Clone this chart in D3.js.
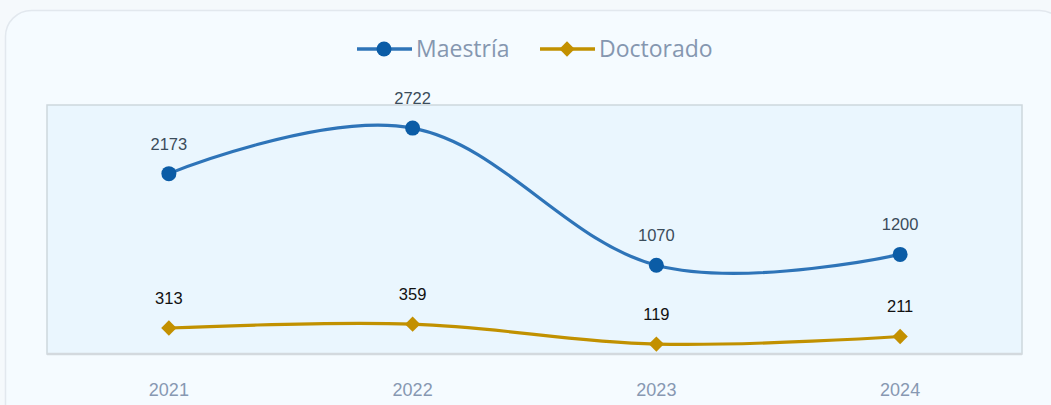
<!DOCTYPE html>
<html>
<head>
<meta charset="utf-8">
<script src="https://cdn.jsdelivr.net/npm/d3@7"></script>
<style>
  html, body { margin: 0; padding: 0; background: #f5f9fc; }
  svg { display: block; }
</style>
</head>
<body>
<div id="chart"></div>
<script>
const years = ['2021', '2022', '2023', '2024'];
const maestria = [2173, 2722, 1070, 1200];
const doctorado = [313, 359, 119, 211];
const yDomain = [0, 3000];

const width = 1051;
const height = 405;
const plot = { left: 47, right: 1022, top: 105, bottom: 354 };

const svg = d3.select('#chart').append('svg')
  .attr('width', width)
  .attr('height', height);

// card
svg.append('rect')
  .attr('x', 5.5).attr('y', 10.5)
  .attr('width', 1060).attr('height', 420)
  .attr('rx', 26).attr('ry', 26)
  .attr('fill', '#f5fbff')
  .attr('stroke', '#e2e8ee')
  .attr('stroke-width', 1.5);

// plot area
svg.append('rect')
  .attr('x', plot.left).attr('y', plot.top)
  .attr('width', plot.right - plot.left).attr('height', plot.bottom - plot.top)
  .attr('fill', '#eaf6fe')
  .attr('stroke', '#cdd7dd')
  .attr('stroke-width', 1.5);
svg.append('line')
  .attr('x1', plot.left).attr('x2', plot.right)
  .attr('y1', plot.bottom).attr('y2', plot.bottom)
  .attr('stroke', '#d3d9de')
  .attr('stroke-width', 2.5);

const x = d3.scaleBand().domain(years).range([plot.left, plot.right]);
const y = d3.scaleLinear().domain(yDomain).range([plot.bottom, plot.top]);
const cx = function (d) { return x(d) + x.bandwidth() / 2; };

// x axis labels
svg.append('g')
  .selectAll('text')
  .data(years)
  .enter().append('text')
  .attr('x', cx)
  .attr('y', 396)
  .attr('text-anchor', 'middle')
  .attr('fill', '#8798b2')
  .style('font', '18px "Liberation Sans", Arial, sans-serif')
  .text(function (d) { return d; });

const series = [
  { name: 'Maestría', values: maestria, line: '#2e74b8', point: '#0b5ca6', shape: 'circle', label: '#3b4c5a' },
  { name: 'Doctorado', values: doctorado, line: '#c19100', point: '#c39000', shape: 'diamond', label: '#111111' },
];

const line = d3.line()
  .x(function (d) { return cx(d.year); })
  .y(function (d) { return y(d.value); })
  .curve(d3.curveCardinal.tension(-0.1));

const drawMarker = function (g, s, px, py) {
  if (s.shape === 'circle') {
    g.append('circle').attr('cx', px).attr('cy', py).attr('r', 7.5).attr('fill', s.point);
  } else {
    g.append('path')
      .attr('d', d3.symbol().type(d3.symbolDiamond2).size(150)())
      .attr('transform', 'translate(' + px + ',' + py + ')')
      .attr('fill', s.point);
  }
};

series.forEach(function (s) {
  const pts = years.map(function (yr, i) { return { year: yr, value: s.values[i] }; });
  const g = svg.append('g');
  g.append('path')
    .datum(pts)
    .attr('d', line)
    .attr('fill', 'none')
    .attr('stroke', s.line)
    .attr('stroke-width', 3.2);
  pts.forEach(function (p) {
    drawMarker(g, s, cx(p.year), y(p.value));
    g.append('text')
      .attr('x', cx(p.year))
      .attr('y', y(p.value) - 24)
      .attr('text-anchor', 'middle')
      .attr('fill', s.label)
      .style('font', '16.5px "Liberation Sans", Arial, sans-serif')
      .text(p.value);
  });
});

// legend
const legend = svg.append('g');
const legendItems = [
  { s: series[0], x0: 357 },
  { s: series[1], x0: 540 },
];
legendItems.forEach(function (it) {
  const ly = 49;
  legend.append('line')
    .attr('x1', it.x0).attr('x2', it.x0 + 55)
    .attr('y1', ly).attr('y2', ly)
    .attr('stroke', it.s.line)
    .attr('stroke-width', 3.5);
  drawMarker(legend, it.s, it.x0 + 27, ly);
  legend.append('text')
    .attr('x', it.x0 + 59)
    .attr('y', ly + 8)
    .attr('fill', '#8597b0')
    .style('font', '23px "Open Sans", sans-serif')
    .text(it.s.name);
});
</script>
</body>
</html>
